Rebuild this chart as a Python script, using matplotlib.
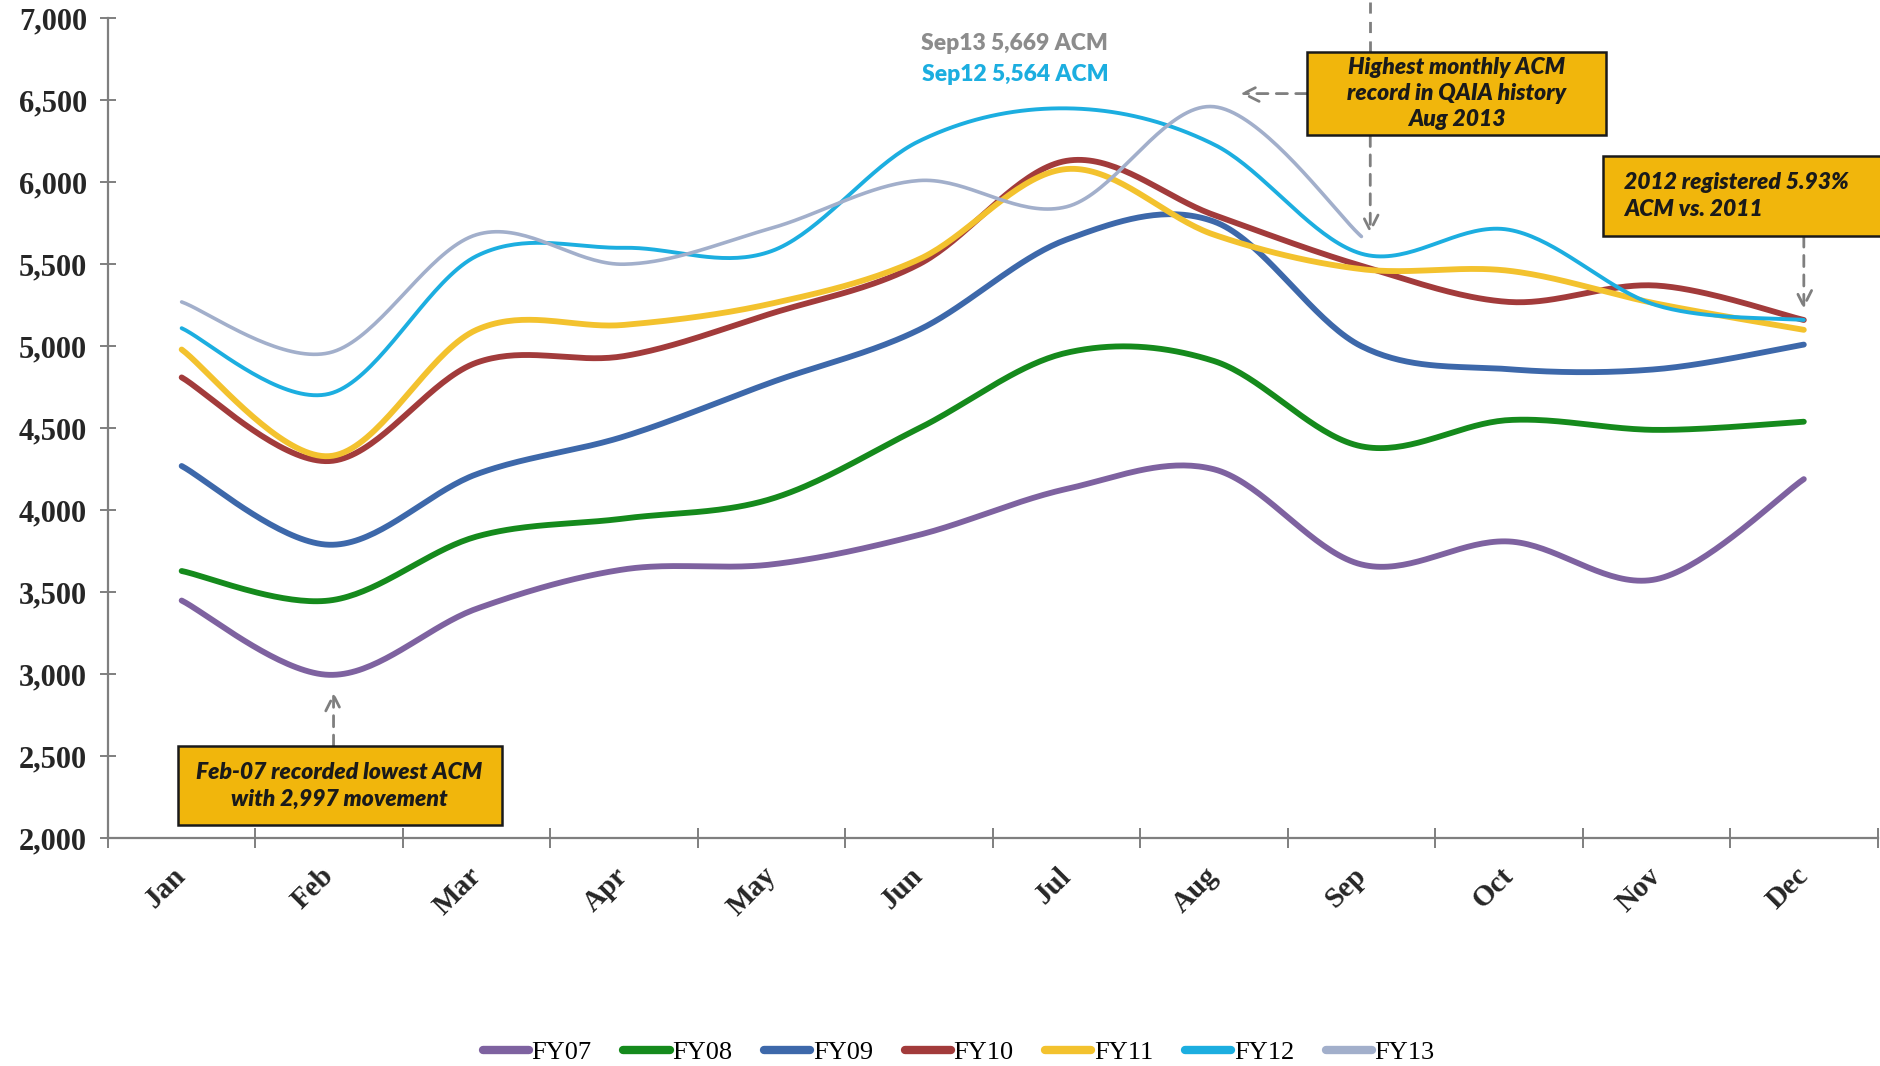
import numpy as np
import matplotlib
matplotlib.use('Agg')
import matplotlib.pyplot as plt
from matplotlib.lines import Line2D
from matplotlib.patches import Rectangle

months = ['Jan', 'Feb', 'Mar', 'Apr', 'May', 'Jun', 'Jul', 'Aug', 'Sep', 'Oct', 'Nov', 'Dec']
fy07 = [3450, 2997, 3400, 3640, 3670, 3850, 4130, 4250, 3670, 3810, 3580, 4190]
fy08 = [3630, 3450, 3840, 3950, 4070, 4500, 4960, 4910, 4390, 4550, 4490, 4540]
fy09 = [4270, 3790, 4220, 4450, 4780, 5100, 5650, 5760, 5000, 4860, 4860, 5010]
fy10 = [4810, 4300, 4900, 4940, 5200, 5500, 6130, 5800, 5490, 5270, 5370, 5160]
fy11 = [4980, 4330, 5100, 5130, 5260, 5530, 6080, 5680, 5470, 5460, 5260, 5100]
fy12 = [5110, 4710, 5550, 5600, 5580, 6250, 6450, 6230, 5564, 5710, 5250, 5160]
fy13 = [5270, 4960, 5680, 5500, 5720, 6010, 5850, 6460, 5669]
series_names = ['FY07', 'FY08', 'FY09', 'FY10', 'FY11', 'FY12', 'FY13']
series_values = [fy07, fy08, fy09, fy10, fy11, fy12, fy13]
colors = ['#7E62A0', '#158A1C', '#3D68AA', '#A23B3B', '#F3C22E', '#1CAEE0', '#A2AFCB']
widths = [4.2, 4.2, 4.2, 4.2, 4.2, 2.8, 2.6]
yticks = [2000, 2500, 3000, 3500, 4000, 4500, 5000, 5500, 6000, 6500, 7000]


def smooth(y, n=40):
    x = np.arange(len(y), dtype=float)
    pts = np.column_stack([x, np.asarray(y, float)])
    out = []
    for i in range(len(pts) - 1):
        p0 = pts[max(i - 1, 0)]
        p1 = pts[i]
        p2 = pts[i + 1]
        p3 = pts[min(i + 2, len(pts) - 1)]
        c1 = p1 + (p2 - p0) / 6.0
        c2 = p2 - (p3 - p1) / 6.0
        t = np.linspace(0, 1, n)[:, None]
        seg = (1 - t) ** 3 * p1 + 3 * (1 - t) ** 2 * t * c1 + 3 * (1 - t) * t ** 2 * c2 + t ** 3 * p2
        out.append(seg if i == 0 else seg[1:])
    s = np.vstack(out)
    return s[:, 0], s[:, 1]


fig = plt.figure(figsize=(18.8, 10.66), dpi=100)
ax = fig.add_axes([0.0574, 0.2135, 0.9413, 0.7695])

handles = []
for name, vals, c, w in zip(series_names, series_values, colors, widths):
    xs, ys = smooth(vals)
    ax.plot(xs, ys, color=c, lw=w, solid_capstyle='round', zorder=3)
    handles.append(Line2D([], [], color=c, lw=6, solid_capstyle='round'))

ax.set_xlim(-0.5, len(months) - 0.5)
ax.set_ylim(2000, 7000)

axis_col = '#7F7F7F'
for s in ['top', 'right']:
    ax.spines[s].set_visible(False)
for s in ['left', 'bottom']:
    ax.spines[s].set_color(axis_col)
    ax.spines[s].set_linewidth(1.6)

ax.set_yticks(yticks)
ax.set_yticklabels([f'{v:,}' for v in yticks])
ax.set_xticks(np.arange(-0.5, len(months), 1.0))
ax.set_xticklabels([])
ax.set_xticks(np.arange(len(months)), minor=True)
ax.set_xticklabels(months, minor=True)
ax.tick_params(axis='y', direction='inout', length=12, width=1.4, color=axis_col, pad=9,
               labelsize=22)
ax.tick_params(axis='x', which='major', direction='inout', length=14, width=1.4, color=axis_col)
ax.tick_params(axis='x', which='minor', length=0, pad=24, labelsize=21)
for lab in ax.get_yticklabels():
    lab.set_fontfamily('Liberation Serif')
    lab.set_fontweight('bold')
    lab.set_color('#262626')
for lab in ax.get_xticklabels(minor=True):
    lab.set_fontfamily('Liberation Serif')
    lab.set_fontweight('bold')
    lab.set_color('#262626')
    lab.set_rotation(45)
    lab.set_rotation_mode('anchor')
    lab.set_ha('right')
    lab.set_va('center')

# top labels
ax.text(5.65, 6847, 'Sep13 5,669 ACM', color='#8C8C8C', fontsize=16.5, fontweight='heavy',
        family='Lato', ha='center', va='center')
ax.text(5.65, 6657, 'Sep12 5,564 ACM', color='#1CAEE0', fontsize=16.5, fontweight='heavy',
        family='Lato', ha='center', va='center')

box_fc = '#F1B60C'
arrow_kw = dict(arrowstyle='->', color='#7F7F7F', lw=2.0, linestyle=(0, (4, 3)),
                mutation_scale=28, shrinkA=0, shrinkB=0)

# Box 1 : highest monthly
ax.add_patch(Rectangle((7.63, 6285), 2.03, 511, facecolor=box_fc, edgecolor='#1a1a1a',
                       lw=1.8, zorder=5, clip_on=False))
ax.text(8.645, 6540, 'Highest monthly ACM\nrecord in QAIA history\nAug 2013', ha='center',
        va='center', fontsize=16.5, fontweight='heavy', style='italic', family='Lato',
        color='#1a1a1a', zorder=6, linespacing=1.3)
ax.annotate('', xy=(7.18, 6540), xytext=(7.63, 6540), arrowprops=arrow_kw,
            annotation_clip=False, zorder=4)
ax.plot([8.06, 8.06], [6796, 7110], color='#7F7F7F', lw=2.0, linestyle=(0, (4, 3)),
        clip_on=False, zorder=4)
ax.annotate('', xy=(8.06, 5686), xytext=(8.06, 6285), arrowprops=arrow_kw,
            annotation_clip=False, zorder=4)

# Box 2 : 2012 registered
ax.add_patch(Rectangle((9.64, 5672), 1.88, 489, facecolor=box_fc, edgecolor='#1a1a1a',
                       lw=1.8, zorder=5, clip_on=False))
ax.text(9.78, 5917, '2012 registered 5.93%\nACM vs. 2011', ha='left', va='center',
        fontsize=16.5, fontweight='heavy', style='italic', family='Lato', color='#1a1a1a',
        zorder=6, linespacing=1.35)
ax.annotate('', xy=(11.0, 5226), xytext=(11.0, 5672), arrowprops=arrow_kw,
            annotation_clip=False, zorder=4)

# Box 3 : lowest
ax.add_patch(Rectangle((-0.024, 2080), 2.194, 482, facecolor=box_fc, edgecolor='#1a1a1a',
                       lw=1.8, zorder=5, clip_on=False))
ax.text(1.07, 2321, 'Feb-07 recorded lowest ACM\nwith 2,997 movement', ha='center',
        va='center', fontsize=16.5, fontweight='heavy', style='italic', family='Lato',
        color='#1a1a1a', zorder=6, linespacing=1.35)
ax.annotate('', xy=(1.03, 2891), xytext=(1.03, 2562), arrowprops=arrow_kw,
            annotation_clip=False, zorder=4)

leg = fig.legend(handles, series_names, loc='center', bbox_to_anchor=(0.51, 0.013),
                 ncol=7, frameon=False, handlelength=1.75, handletextpad=0.1,
                 columnspacing=1.2, prop={'family': 'Liberation Serif', 'size': 19})

fig.savefig('out.png', dpi=100)
